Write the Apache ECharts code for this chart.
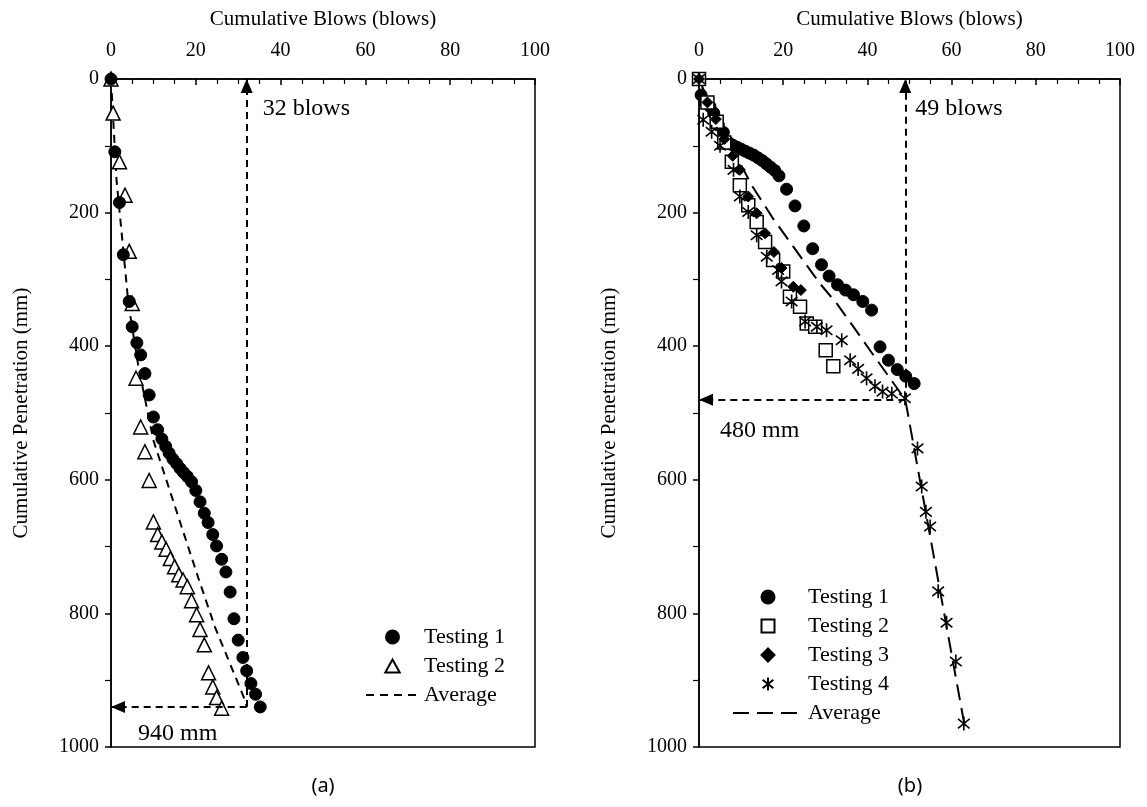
<!DOCTYPE html>
<html><head><meta charset="utf-8">
<script src="https://cdn.jsdelivr.net/npm/echarts@6/dist/echarts.min.js"></script>
<style>html,body{margin:0;padding:0;background:#fff}#c{width:1147px;height:807px}</style>
</head><body><div id="c"></div>
<script>
// ---------- Panel (a) ----------
const aT1Blows = [0,0.9,2.0,2.9,4.3,5.0,6.1,7.0,8.0,9.0,10,11,12,12.9,13.7,14.6,15.5,16.3,17.1,18,19,20,21,22,22.9,24,24.9,26.1,27.1,28.1,29,30,31.1,32,33,34.1,35.2];
const aT1Pen   = [0,109,185,263,333,371,395,413,441,473,506,525,539,550,560,569,576,583,589,595,603,616,633,650,664,682,699,719,738,768,808,840,866,886,905,921,940];
const aT2Blows = [0,0.5,2.0,3.3,4.3,5.0,5.9,7,8,9,10,11,12,13,14,15,16,17,18,19,20.2,21,22,23,24,24.9,26.1];
const aT2Pen   = [0,51,124,174,258,336,448,521,558,601,663,682,693,704,718,730,742,750,760,781,802,824,847,889,910,926,942];
const aAvgBlows = [0,1.3,2.9,4.1,6.4,10.0,20.6,24.5,31.6,32];
const aAvgPen   = [0,151,256,336,428,541,747,820,930,940];
const aMarkBlows = 32, aMarkPen = 940;

// ---------- Panel (b) ----------
const bT1Blows = [0,0.5,1.5,2.6,3.5,4.6,5.8,7,8,9,10,11,12,13,14,15,16,17,18,19,20.8,22.8,24.9,27,29.1,30.9,32.9,34.8,36.7,38.9,41,43,45,47.1,49.1,51.1];
const bT1Pen   = [0,24,34,41,51,69,80,95,99,102,105,108,111,114,118,122,127,132,137,145,165,190,220,254,278,295,308,316,323,333,346,401,421,435,445,456];
const bT2Blows = [0,2,4.2,6,7.8,9.7,11.7,13.7,15.7,17.6,20.0,21.6,24.0,25.6,27.6,30.1,31.9];
const bT2Pen   = [0,35,64,95,124,159,189,214,244,271,288,326,341,366,371,406,430];
const bT3Blows = [0,2,4,6,8,9.7,11.7,13.7,15.7,17.8,19.6,22.4,24.2];
const bT3Pen   = [0,35,60,90,115,136,176,201,231,259,283,311,316];
const bT4Blows = [0,1,3,5,8.2,9.7,11.7,13.7,16.1,18.8,19.6,22,25.2,28,30.3,33.9,35.9,37.8,39.8,41.8,43.6,45.8,48.9,51.9,52.9,53.9,54.9,56.8,58.8,61,62.9];
const bT4Pen   = [0,61,79,100,136,176,199,234,266,286,303,333,363,371,376,391,421,434,448,460,468,471,478,553,610,648,670,767,814,872,965];
const bAvgBlows = [0,4,8,12.5,17.6,22.4,28.7,32.7,36.7,40.6,49,63];
const bAvgPen   = [0,60,105,159,209,251,306,336,371,406,480,965];
const bMarkBlows = 49, bMarkPen = 480;

// ---------- axes / labels ----------
const xTicks = [0,20,40,60,80,100];
const yTicks = [0,200,400,600,800,1000];
const xName = 'Cumulative Blows (blows)';
const yName = 'Cumulative Penetration (mm)';
const panelLabels = ['(a)','(b)'];
const legendA = ['Testing 1','Testing 2','Average'];
const legendB = ['Testing 1','Testing 2','Testing 3','Testing 4','Average'];

const FONT = '"Liberation Serif","Times New Roman",serif';
const zip = (xs, ys) => xs.map((x, i) => [x, ys[i]]);
const asterisk = 'path://M5,0L5,12M0,2L10,10M0,10L10,2';
const legendIcons = {
  'a|Testing 2': 'path://M5,0L10,9L0,9Z',
  'b|Testing 2': 'path://M0,0L10,0L10,10L0,10Z',
  'b|Testing 3': 'path://M5,0L10,5L5,10L0,5Z'
};

function xAxisFor(i) {
  return {
    gridIndex: i, type: 'value', position: 'top',
    min: xTicks[0], max: xTicks[xTicks.length-1], interval: xTicks[1]-xTicks[0],
    axisLine: {show: true, lineStyle: {color: '#000', width: 1.5}},
    axisTick: {show: true, inside: true, length: 6, lineStyle: {color: '#000', width: 1.5}},
    minorTick: {show: true, splitNumber: 4, length: 5, lineStyle: {color: '#000', width: 1.2}},
    splitLine: {show: false},
    axisLabel: {color: '#000', fontFamily: FONT, fontSize: 20, margin: 18},
    name: xName, nameLocation: 'middle', nameGap: 49,
    nameTextStyle: {color: '#000', fontFamily: FONT, fontSize: 21}
  };
}
function yAxisFor(i) {
  return {
    gridIndex: i, type: 'value', inverse: true,
    min: yTicks[0], max: yTicks[yTicks.length-1], interval: yTicks[1]-yTicks[0],
    axisLine: {show: true, lineStyle: {color: '#000', width: 1.5}},
    axisTick: {show: true, inside: false, length: 6, lineStyle: {color: '#000', width: 1.5}},
    minorTick: {show: true, splitNumber: 2, length: 6, lineStyle: {color: '#000', width: 1.2}},
    splitLine: {show: false},
    axisLabel: {color: '#000', fontFamily: FONT, fontSize: 20, margin: 12, formatter: v => String(v)},
    name: yName, nameLocation: 'middle', nameGap: 79, nameRotate: 90,
    nameTextStyle: {color: '#000', fontFamily: FONT, fontSize: 21}
  };
}

function scatter(name, gi, xs, ys, symbol, size, filled, z) {
  return {
    name: name, type: 'scatter', xAxisIndex: gi, yAxisIndex: gi, z: z,
    data: zip(xs, ys), symbol: symbol, symbolSize: size, symbolKeepAspect: true,
    itemStyle: filled ? {color: '#000', borderColor: '#000', borderWidth: 1, opacity: 1}
                      : {color: '#fff', borderColor: '#000', borderWidth: 1.5, opacity: 1},
    emphasis: {disabled: true}
  };
}

function avgLine(name, gi, xs, ys, dash, markX, markY, lblBlowOff, lblPenOff) {
  return {
    name: name, type: 'line', xAxisIndex: gi, yAxisIndex: gi, z: 2,
    data: zip(xs, ys), symbol: 'none', showSymbol: false,
    lineStyle: {color: '#000', width: 2, type: dash},
    itemStyle: {color: '#000'},
    emphasis: {disabled: true},
    markLine: {
      silent: true, symbol: ['none', 'triangle'], symbolSize: [12, 14],
      symbolOffset: [0, [0, 7]],
      lineStyle: {color: '#000', width: 2, type: [7, 5]},
      label: {show: false},
      data: [
        [{coord: [markX, markY]}, {coord: [markX, yTicks[0]]}],
        [{coord: [markX, markY]}, {coord: [xTicks[0], markY]}]
      ]
    },
    markPoint: {
      silent: true, symbol: 'circle', symbolSize: 0,
      label: {show: true, color: '#000', fontFamily: FONT, fontSize: 24},
      data: [
        {coord: [markX, yTicks[0]], label: {formatter: markX + ' blows', position: lblBlowOff}},
        {coord: [xTicks[0], markY], label: {formatter: markY + ' mm', position: lblPenOff}}
      ]
    }
  };
}

function legendData(prefix, names) {
  return names.map(n => {
    const key = prefix + n;
    if (n === 'Average') return {name: key, itemStyle: {opacity: 0}};
    if (legendIcons[key]) return {name: key, icon: legendIcons[key]};
    return {name: key};
  });
}

const chart = echarts.init(document.getElementById('c'));
chart.setOption({
  animation: false,
  backgroundColor: '#fff',
  grid: [
    {left: 111, top: 79, width: 424, height: 668, show: true, borderColor: '#000', borderWidth: 1.5},
    {left: 699, top: 79, width: 421, height: 668, show: true, borderColor: '#000', borderWidth: 1.5}
  ],
  xAxis: [xAxisFor(0), xAxisFor(1)],
  yAxis: [yAxisFor(0), yAxisFor(1)],
  legend: [
    {
      orient: 'vertical', left: 360, top: 621, itemWidth: 53, itemHeight: 13, itemGap: 7,
      data: legendData('a|', legendA),
      formatter: n => n.slice(2),
      textStyle: {color: '#000', fontFamily: FONT, fontSize: 22, lineHeight: 22},
      selectedMode: false
    },
    {
      orient: 'vertical', left: 727, top: 581, itemWidth: 70, itemHeight: 13, itemGap: 7,
      data: legendData('b|', legendB),
      formatter: n => n.slice(2),
      textStyle: {color: '#000', fontFamily: FONT, fontSize: 22, lineHeight: 22},
      selectedMode: false
    }
  ],
  series: [
    scatter('a|Testing 2', 0, aT2Blows, aT2Pen, 'triangle', 14, false, 3),
    scatter('a|Testing 1', 0, aT1Blows, aT1Pen, 'circle', 12, true, 4),
    avgLine('a|Average', 0, aAvgBlows, aAvgPen, [8, 6], aMarkBlows, aMarkPen, [16, 18], [27, 15]),
    scatter('b|Testing 1', 1, bT1Blows, bT1Pen, 'circle', 12, true, 3),
    scatter('b|Testing 2', 1, bT2Blows, bT2Pen, 'rect', 13, false, 3),
    scatter('b|Testing 3', 1, bT3Blows, bT3Pen, 'diamond', 11, true, 3),
    Object.assign(scatter('b|Testing 4', 1, bT4Blows, bT4Pen, asterisk, 14, false, 3),
      {itemStyle: {color: '#000', borderColor: '#000', borderWidth: 1.6, opacity: 1}}),
    avgLine('b|Average', 1, bAvgBlows, bAvgPen, [16, 8], bMarkBlows, bMarkPen, [10, 18], [21, 19])
  ],
  graphic: [
    {type: 'text', x: 323, y: 786, style: {text: panelLabels[0], fill: '#000', font: '20px "Noto Sans"', textAlign: 'center', textVerticalAlign: 'middle'}},
    {type: 'text', x: 910, y: 786, style: {text: panelLabels[1], fill: '#000', font: '20px "Noto Sans"', textAlign: 'center', textVerticalAlign: 'middle'}}
  ]
});
</script>
</body></html>
